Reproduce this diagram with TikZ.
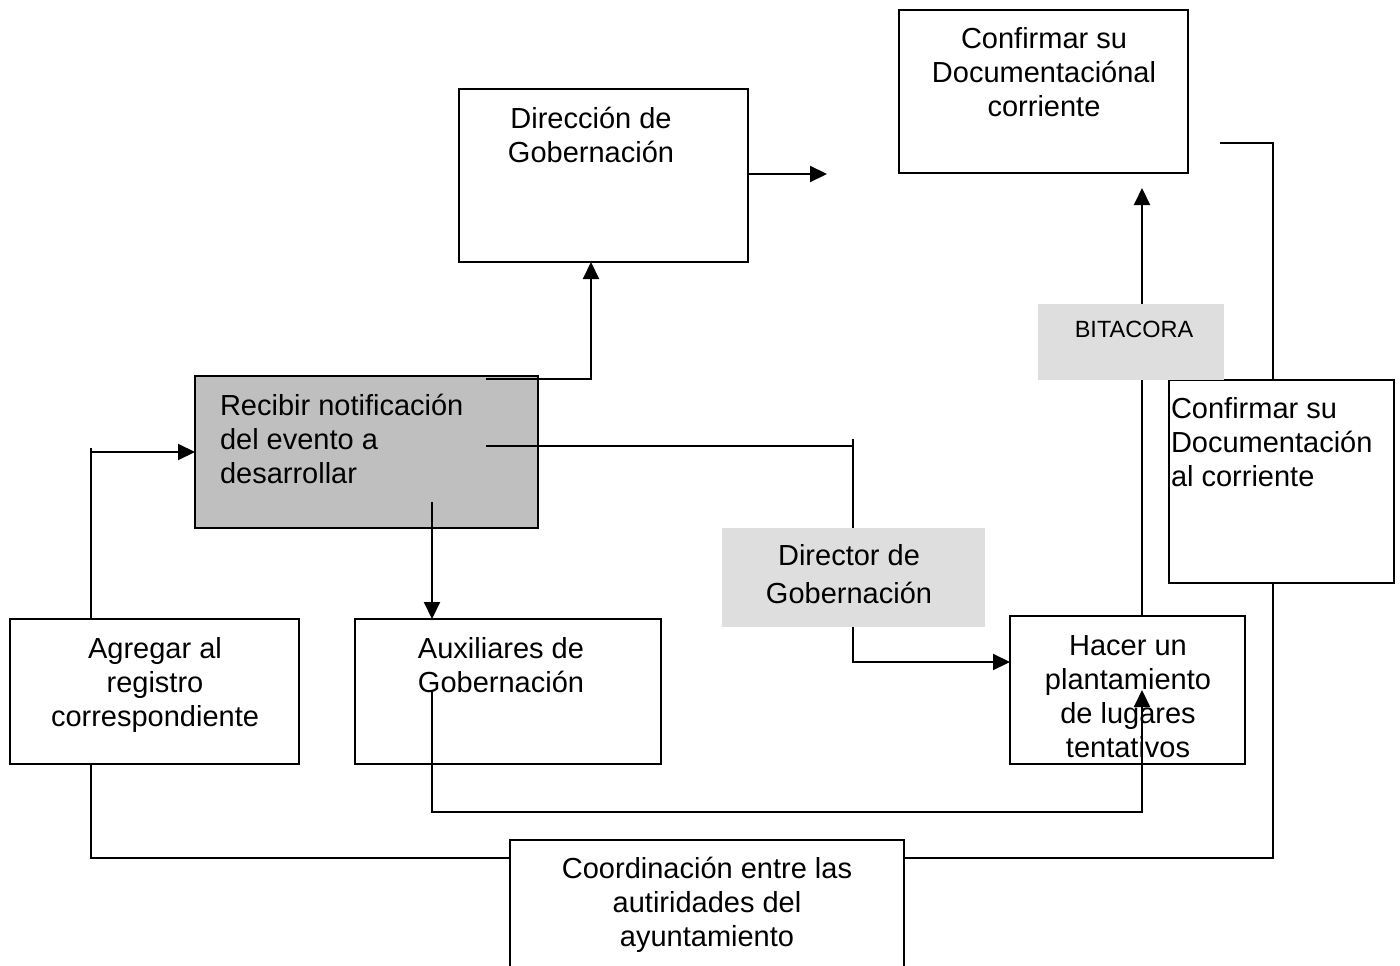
\documentclass[tikz,border=0pt]{standalone}
\usepackage{fontspec}
\setmainfont{Liberation Sans}
\usetikzlibrary{arrows.meta}

\tikzset{
  box/.style={draw, line width=2.1pt, inner sep=0pt, outer sep=0pt},
  flat/.style={fill=paleGray, inner sep=0pt, outer sep=0pt},
  txt/.style={inner sep=0pt, outer sep=0pt, align=center, anchor=base,
    font=\fontsize{29}{34}\selectfont},
  conn/.style={line width=2.1pt},
  arr/.style={conn, -{Triangle[length=17pt,width=16pt]}},
}

\begin{document}
\begin{tikzpicture}[x=1pt,y=-1pt]
\definecolor{darkGray}{rgb}{0.75,0.75,0.75}
\definecolor{paleGray}{rgb}{0.87,0.87,0.87}
\clip (0,0) rectangle (1400,966);
\fill[white] (0,0) rectangle (1400,966);

% boxes
\node[box, minimum width=289, minimum height=173] (direccion) at (603.5,175.5) {};
\node[box, minimum width=289, minimum height=163] (confirma) at (1043.5,91.5) {};
\node[box, fill=darkGray, minimum width=343, minimum height=152] (recibir) at (366.5,452) {};
\node[box, minimum width=225, minimum height=203] (confirmb) at (1281.5,481.5) {};
\node[box, minimum width=289, minimum height=145] (agregar) at (154.5,691.5) {};
\node[box, minimum width=306, minimum height=145] (auxiliares) at (508,691.5) {};
\node[box, minimum width=235, minimum height=148] (hacer) at (1127.5,690) {};
\node[flat, minimum width=263, minimum height=99] (director) at (853.5,577.5) {};
\node[flat, minimum width=186, minimum height=76] (bitacora) at (1131,342) {};
\node[box, minimum width=394, minimum height=160] (coord) at (707,920) {};

% texts (anchor base = last line)
\node[txt] (direccion-t) at (591,162) {Dirección de\\Gobernación};
\node[txt] (confirma-t) at (1044,116) {Confirmar su\\Documentaciónal\\corriente};
\node[txt, align=left, anchor=base west] (recibir-t) at (220,483) {Recibir notificación\\del evento a\\desarrollar};
\node[txt, align=left, anchor=base west] (confirmb-t) at (1171,486) {Confirmar su\\Documentación\\al corriente};
\node[txt] (agregar-t) at (155,726) {Agregar al\\registro\\correspondiente};
\node[txt] (auxiliares-t) at (501,692) {Auxiliares de\\Gobernación};
\node[txt] (hacer-t) at (1128,757) {Hacer un\\plantamiento\\de lugares\\tentativos};
\node[txt, font=\fontsize{29}{38}\selectfont] (director-t) at (849,603) {Director de\\Gobernación};
\node[txt, font=\fontsize{23.5}{27}\selectfont] (bitacora-t) at (1134,337) {BITACORA};
\node[txt] (coord-t) at (707,946) {Coordinación entre las\\autiridades del\\ayuntamiento};

% free ends and bends
\coordinate (ag-top) at (91,448);
\coordinate (lowline) at (707,858);
\coordinate (r-up) at (486,379);
\coordinate (d-in) at (591,262);
\coordinate (d-out) at (827,174);
\coordinate (r-mid) at (486,446);
\coordinate (dir-tick) at (853,439);
\coordinate (h-in) at (1010,662);
\coordinate (r-down) at (432,502);
\coordinate (aux-in) at (432,690);
\coordinate (bot) at (800,812);
\coordinate (h-mid) at (1142,690);
\coordinate (c-tip) at (1142,188);
\coordinate (c-out) at (1220,143);
\coordinate (rline) at (1273,143);

% connectors
\draw[conn] (agregar.north -| ag-top) -- (ag-top);
\draw[arr] (ag-top |- recibir.west) -- (recibir.west);
\draw[conn] (agregar.south -| ag-top) |- (coord.west |- lowline);
\draw[arr] (r-up) -| (direccion.south -| d-in);
\draw[arr] (direccion.east |- d-out) -- (d-out);
\draw[conn] (r-mid) -- (r-mid -| dir-tick);
\draw[conn] (dir-tick) -- (director.north -| dir-tick);
\draw[arr] (director.south -| dir-tick) |- (hacer.west |- h-in);
\draw[arr] (r-down) -- (auxiliares.north -| r-down);
\draw[arr] (aux-in) |- (h-mid |- bot) -- (h-mid);
\draw[conn] (hacer.north -| h-mid) -- (bitacora.south -| h-mid);
\draw[arr] (bitacora.north -| h-mid) -- (c-tip);
\draw[conn] (c-out) -- (rline) -- (confirmb.north -| rline);
\draw[conn] (confirmb.south -| rline) |- (coord.east |- lowline);
\end{tikzpicture}
\end{document}
